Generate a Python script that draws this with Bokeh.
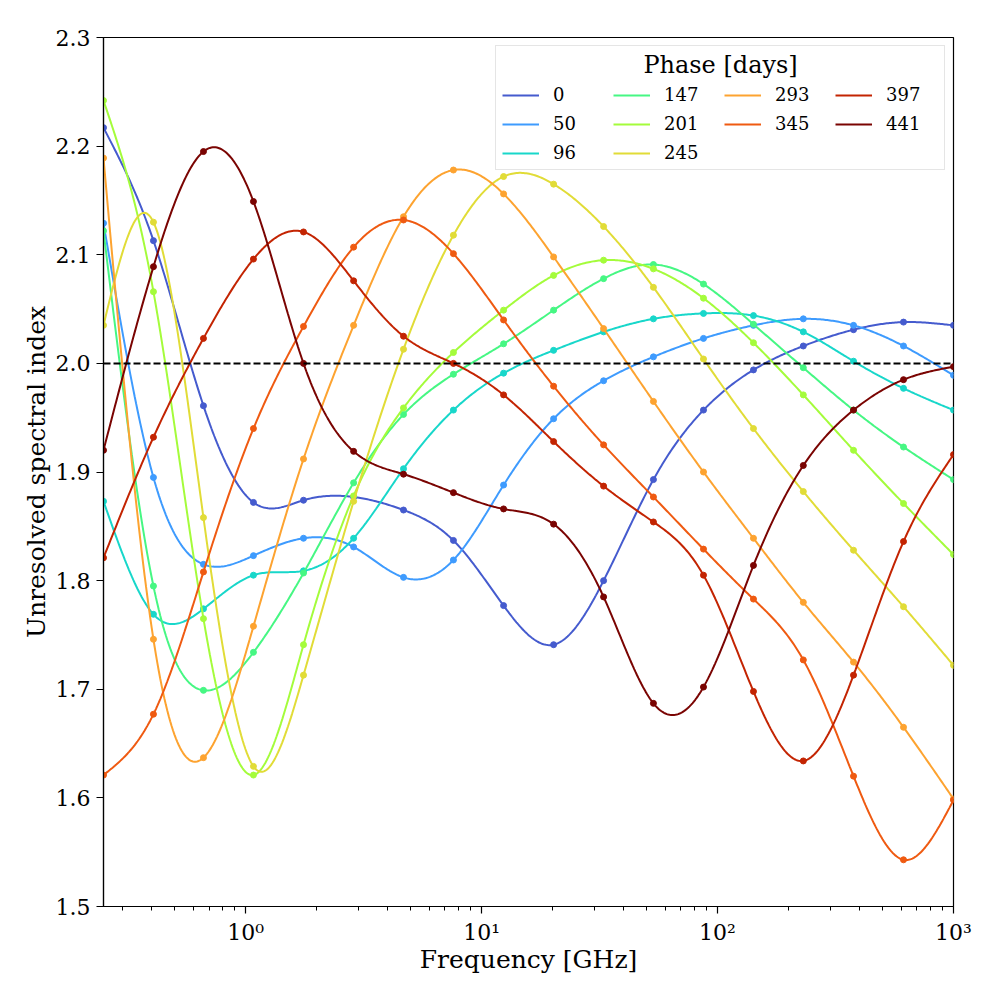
import numpy as np
from bokeh.plotting import figure
from bokeh.models import Range1d, FixedTicker, Span, Legend, LegendItem, Label, PrintfTickFormatter
from bokeh.palettes import Turbo256
from bokeh.embed import file_html
from bokeh.resources import INLINE

# ---- data ----
freq = [0.25, 0.407, 0.663, 1.08, 1.76, 2.87, 4.67, 7.60, 12.4, 20.2, 32.9, 53.5,
        87.2, 142.0, 231.0, 377.0, 614.0, 1000.0]

phases = [0, 50, 96, 147, 201, 245, 293, 345, 397, 441]

s0 = [2.217, 2.113, 1.961, 1.872, 1.874, 1.877, 1.865, 1.837, 1.777, 1.741, 1.800, 1.893,
      1.957, 1.994, 2.016, 2.031, 2.038, 2.035]
s50 = [2.129, 1.895, 1.815, 1.823, 1.839, 1.831, 1.803, 1.819, 1.888, 1.949, 1.984, 2.006,
       2.023, 2.035, 2.041, 2.035, 2.016, 1.989]
s96 = [1.873, 1.769, 1.774, 1.805, 1.809, 1.839, 1.903, 1.957, 1.991, 2.012, 2.029, 2.041,
       2.046, 2.044, 2.029, 2.002, 1.977, 1.957]
s147 = [2.122, 1.795, 1.699, 1.734, 1.807, 1.890, 1.953, 1.990, 2.018, 2.049, 2.078, 2.091,
        2.073, 2.036, 1.996, 1.957, 1.923, 1.893]
s201 = [2.242, 2.066, 1.765, 1.621, 1.741, 1.878, 1.959, 2.010, 2.049, 2.081, 2.095, 2.087,
        2.060, 2.019, 1.971, 1.920, 1.871, 1.824]
s245 = [2.035, 2.130, 1.858, 1.629, 1.713, 1.873, 2.013, 2.118, 2.172, 2.165, 2.126, 2.070,
        2.004, 1.940, 1.882, 1.828, 1.776, 1.722]
s293 = [2.189, 1.746, 1.637, 1.758, 1.912, 2.035, 2.135, 2.178, 2.156, 2.098, 2.032, 1.965,
        1.900, 1.839, 1.780, 1.725, 1.665, 1.599]
s345 = [1.621, 1.677, 1.808, 1.940, 2.034, 2.107, 2.132, 2.101, 2.040, 1.979, 1.925, 1.877,
        1.829, 1.783, 1.727, 1.620, 1.543, 1.598]
s397 = [1.821, 1.932, 2.023, 2.096, 2.121, 2.076, 2.025, 2.000, 1.971, 1.928, 1.887, 1.854,
        1.805, 1.698, 1.634, 1.713, 1.836, 1.916]
s441 = [1.920, 2.089, 2.195, 2.149, 2.000, 1.919, 1.898, 1.881, 1.866, 1.852, 1.785, 1.687,
        1.702, 1.814, 1.906, 1.957, 1.985, 1.997]

series = [s0, s50, s96, s147, s201, s245, s293, s345, s397, s441]

y_ticks = [1.5, 1.6, 1.7, 1.8, 1.9, 2.0, 2.1, 2.2, 2.3]
x_ticks = [1, 10, 100, 1000]
x_tick_labels = {1: "10\u2070", 10: "10\u00b9", 100: "10\u00b2", 1000: "10\u00b3"}
reference_level = 2.0

FONT = "DejaVu Serif"


def smooth_curve(xk, yk, xs):
    """Natural cubic spline through the read points (used only to draw the line)."""
    xk = np.asarray(xk, float)
    yk = np.asarray(yk, float)
    n = len(xk)
    h = np.diff(xk)
    A = np.zeros((n, n))
    r = np.zeros(n)
    A[0, 0] = 1.0
    A[-1, -1] = 1.0
    for i in range(1, n - 1):
        A[i, i - 1] = h[i - 1]
        A[i, i] = 2 * (h[i - 1] + h[i])
        A[i, i + 1] = h[i]
        r[i] = 6 * ((yk[i + 1] - yk[i]) / h[i] - (yk[i] - yk[i - 1]) / h[i - 1])
    M = np.linalg.solve(A, r)
    idx = np.clip(np.searchsorted(xk, xs) - 1, 0, n - 2)
    x0 = xk[idx]
    x1 = xk[idx + 1]
    hh = x1 - x0
    return (M[idx] * (x1 - xs) ** 3 / (6 * hh) + M[idx + 1] * (xs - x0) ** 3 / (6 * hh)
            + (yk[idx] / hh - M[idx] * hh / 6) * (x1 - xs)
            + (yk[idx + 1] / hh - M[idx + 1] * hh / 6) * (xs - x0))


p = figure(width=990, height=990, x_axis_type="log",
           x_range=Range1d(freq[0], freq[-1]), y_range=Range1d(y_ticks[0], y_ticks[-1]),
           output_backend="svg", toolbar_location=None,
           min_border_left=103, min_border_right=37, min_border_top=37, min_border_bottom=84)

p.grid.visible = False
p.outline_line_color = "black"
p.outline_line_width = 1.2
p.outline_line_alpha = 1.0
p.background_fill_color = "white"

lx = np.log10(freq)
fine = np.linspace(lx[0], lx[-1], 600)

items = []
for k, (ph, vals) in enumerate(zip(phases, series)):
    t = 0.1 + 0.9 * k / (len(phases) - 1)
    col = Turbo256[int(round(t * 255))]
    ys = smooth_curve(lx, vals, fine)
    r = p.line(10 ** fine, ys, line_color=col, line_width=2)
    p.scatter(freq, vals, size=6, fill_color=col, line_color=col)
    items.append(LegendItem(label=str(ph), renderers=[r]))
    if ph == 345:
        # empty slot so that the columns hold 3, 3, 2, 2 entries
        blank = p.line([], [], line_alpha=0)
        items.append(LegendItem(label=" ", renderers=[blank]))

p.add_layout(Span(location=reference_level, dimension="width", line_color="black",
                  line_width=2, line_dash="7 3"))

# axes
minor = [m * 10.0 ** e for e in range(-1, 3) for m in range(2, 10)]
minor = [v for v in minor if freq[0] <= v <= freq[-1]]
p.xaxis.ticker = FixedTicker(ticks=x_ticks, minor_ticks=minor)
p.xaxis.major_label_overrides = x_tick_labels
p.yaxis.ticker = FixedTicker(ticks=y_ticks, minor_ticks=[])
p.yaxis.formatter = PrintfTickFormatter(format="%.1f")

p.xaxis.axis_label = "Frequency [GHz]"
p.yaxis.axis_label = "Unresolved spectral index"
for ax in (p.xaxis, p.yaxis):
    ax.axis_label_text_font = FONT
    ax.axis_label_text_font_size = "25px"
    ax.axis_label_text_font_style = "normal"
    ax.axis_label_text_color = "black"
    ax.major_label_text_font = FONT
    ax.major_label_text_font_size = "22px"
    ax.major_label_text_color = "black"
    ax.axis_line_color = "black"
    ax.axis_line_width = 1.2
    ax.major_tick_line_color = "black"
    ax.major_tick_line_width = 1.2
    ax.major_tick_in = 0
    ax.major_tick_out = 7
    ax.minor_tick_line_color = "black"
    ax.minor_tick_line_width = 1
    ax.minor_tick_in = 0
    ax.minor_tick_out = 4
    ax.major_label_standoff = 6
p.xaxis.axis_label_standoff = -3
p.yaxis.axis_label_standoff = 2

legend = Legend(items=items, location="top_right", orientation="vertical", nrows=3,
                margin=8, padding=6, spacing=8,
                glyph_width=37, glyph_height=20, label_standoff=14, label_width=52,
                label_height=20,
                label_text_font=FONT, label_text_font_size="18px", label_text_color="black",
                title="Phase [days]", title_text_font=FONT, title_text_font_size="24px",
                title_text_alpha=0.0, title_standoff=4,
                border_line_color="#cccccc", border_line_width=1,
                background_fill_color="white", background_fill_alpha=0.0)
p.add_layout(legend)

title_label = Label(x=103, y=2.2745, text="Phase [days]", text_align="center",
                    text_baseline="middle", text_font=FONT, text_font_size="24px",
                    text_color="black", level="overlay")
p.add_layout(title_label)

open("out.html", "w").write(file_html(p, INLINE))
